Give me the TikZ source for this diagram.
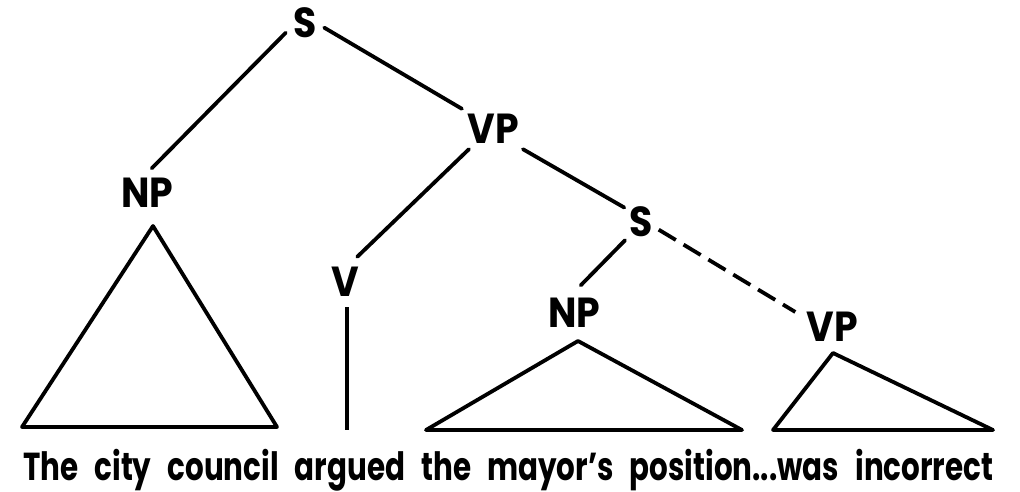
\documentclass[tikz,border=0pt]{standalone}
\usepackage{fontspec}
\usepackage{graphicx}
\setmainfont{Poppins}
\begin{document}
\begin{tikzpicture}[x=1pt, y=-1pt,
  lab/.style={font=\fontsize{42}{42}\selectfont\bfseries, inner sep=0pt,
              text height=29.5pt, text depth=0pt, rectangle},
  branch/.style={line width=3.8pt, line cap=round},
  gapline/.style={branch, line cap=butt, dash pattern=on 20pt off 9pt},
  tri/.style={line width=3.8pt, line join=round}]
\useasboundingbox (0,0) rectangle (1020,492);

% category labels
\node[lab, minimum width=38pt, minimum height=40pt] (S1)  at (305,22.5)   {\scalebox{0.9}[1]{S}};
\node[lab, minimum width=64pt, minimum height=40pt] (VP1) at (493,129)    {\scalebox{0.9}[1]{VP}};
\node[lab, minimum width=66pt, minimum height=48pt] (NP1) at (147.5,192.5) {\scalebox{0.9}[1]{NP}};
\node[lab, minimum width=38pt, minimum height=50pt] (V)   at (345.5,282)  {\scalebox{0.9}[1]{V}};
\node[lab, minimum width=34pt, minimum height=36pt] (S2)  at (641.5,222)  {\scalebox{0.9}[1]{S}};
\node[lab, minimum width=64pt, minimum height=54pt] (NP2) at (574.5,312.5) {\scalebox{0.9}[1]{NP}};
\node[lab, minimum width=74pt, minimum height=40pt] (VP2) at (832.5,327)  {\scalebox{0.9}[1]{VP}};

% branches
\draw[branch] (S1.208)  -- (NP1.80);
\draw[branch] (S1.345)  -- (VP1.147);
\draw[branch] (VP1.220) -- (V.65);
\draw[branch] (VP1.326) -- (S2.140);
\draw[branch] (S2.228)  -- (NP2.77);
\draw[gapline] (S2.336) -- (VP2.158);

% verb stem down to the word
\coordinate (Vfoot) at (347,430);
\draw[branch, line cap=butt] (V.south -| Vfoot) -- (Vfoot);

% collapsed subtrees
\draw[tri] (153,226) -- (277,427) -- (22,427) -- cycle;
\draw[tri] (578,341) -- (742,430) -- (426,430) -- cycle;
\draw[tri] (833,353) -- (993,430) -- (773,430) -- cycle;

% the sentence
\node[anchor=base west, inner sep=0pt] (sent) at (23,480)
  {\resizebox{970pt}{\height}{\fontsize{39}{39}\selectfont\bfseries\spaceskip=0.55em\relax
   The city council argued the mayor's position...was incorrect}};
\end{tikzpicture}
\end{document}
